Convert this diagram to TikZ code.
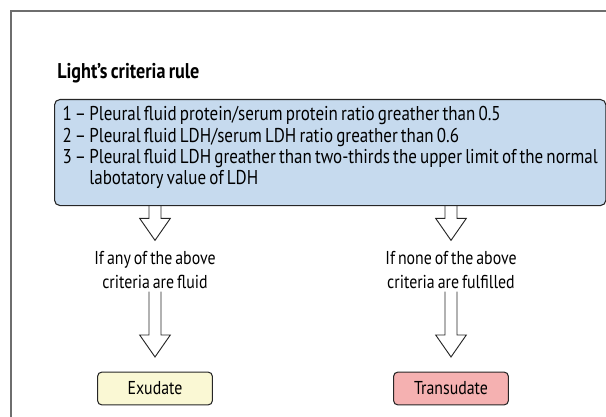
\documentclass[tikz,border=0pt]{standalone}
\usepackage{fontspec}
\setmainfont[FakeStretch=0.85, WordSpace=0.7]{PT Sans}
\usepackage{tikz}
\usetikzlibrary{positioning, calc}
\definecolor{critcolor}{RGB}{198,218,238}
\definecolor{exucolor}{RGB}{250,248,212}
\definecolor{transcolor}{RGB}{245,177,177}
\definecolor{framecolor}{RGB}{110,110,110}

\begin{document}
\begin{tikzpicture}[
    x=0.75pt, y=-0.75pt,
    frame/.style={draw=framecolor, line width=1.3pt},
    critbox/.style={draw=black!85, line width=0.8pt, fill=critcolor, rounded corners=4pt, minimum width=384.75pt, minimum height=79.5pt, inner xsep=6pt, font=\fontsize{15}{16}\selectfont, align=left, anchor=north west},
    result/.style={draw=black!85, line width=0.8pt, rounded corners=3pt, minimum width=86pt, minimum height=24.5pt, font=\fontsize{14}{16}\selectfont},
    cond/.style={font=\fontsize{14}{18}\selectfont, align=center, inner sep=2pt},
    hollow/.style={draw=black!85, line width=0.7pt, line join=miter, to path={
        ($(\tikztostart)+(-4.5pt,0)$) -- ($(\tikztotarget)+(-4.5pt,16.5pt)$) -- ++(-7pt,0)
        -- (\tikztotarget) -- ($(\tikztotarget)+(11.5pt,16.5pt)$) -- ++(-7pt,0)
        -- ($(\tikztostart)+(4.5pt,0)$)}}
]
    \useasboundingbox (0,0) rectangle (606,417);
    \draw[frame] (11,417) |- (606,11);

    % Criteria
    \node[anchor=west, font=\fontsize{16}{16}\selectfont\bfseries, inner sep=0pt] (title) at (57,73) {Light’s criteria rule};
    \node[critbox] (crit) at (54,99) {1 -- Pleural fluid protein/serum protein ratio greather than 0.5\\
        2 -- Pleural fluid LDH/serum LDH ratio greather than 0.6\\
        3 -- Pleural fluid LDH greather than two-thirds the upper limit of the normal\\
        \phantom{3 -- }labotatory value of LDH\rule[-10pt]{0pt}{0pt}};

    % Conditions
    \node[cond] (lcond) at (155,270) {If any of the above\\criteria are fluid};
    \node[cond] (rcond) at (451,270) {If none of the above\\criteria are fulfilled};

    % Results
    \node[result, fill=exucolor] (exu) at (155,388.5) {Exudate};
    \node[result, fill=transcolor] (trans) at (451,388.5) {Transudate};

    % Arrows
    \draw[hollow] (crit.south -| lcond) to ([yshift=6pt]lcond.north);
    \draw[hollow] (crit.south -| rcond) to ([yshift=6pt]rcond.north);
    \draw[hollow] (lcond.south) to ([yshift=11pt]exu.north);
    \draw[hollow] (rcond.south) to ([yshift=11pt]trans.north);
\end{tikzpicture}
\end{document}
